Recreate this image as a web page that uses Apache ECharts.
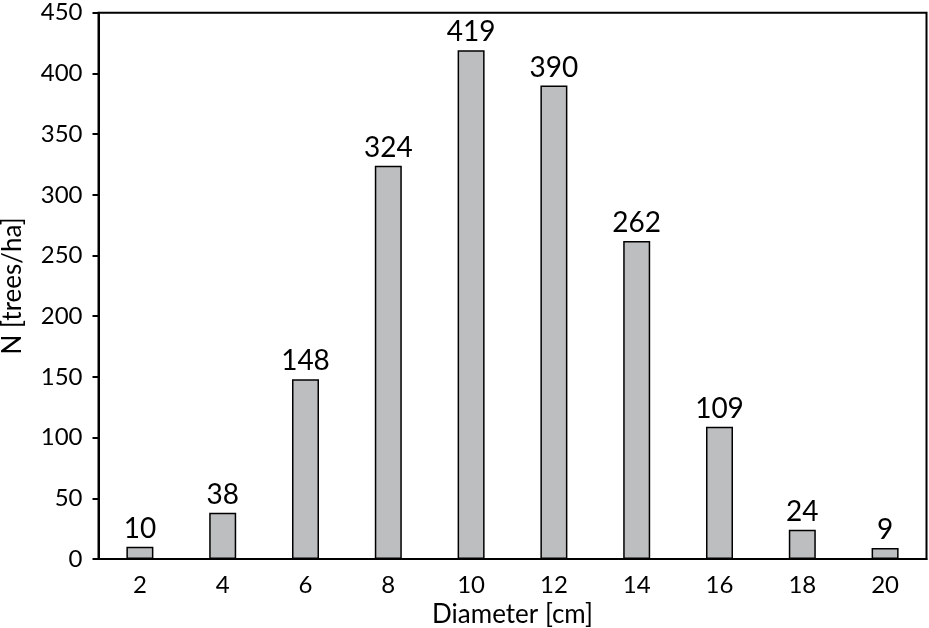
<!DOCTYPE html>
<html><head><meta charset="utf-8">
<script src="https://cdn.jsdelivr.net/npm/echarts@6/dist/echarts.min.js"></script>
<style>html,body{margin:0;padding:0;background:#fff}#c{width:929px;height:628px}</style>
</head><body><div id="c"></div>
<script>
const categories = ['2','4','6','8','10','12','14','16','18','20'];
const values = [10, 38, 148, 324, 419, 390, 262, 109, 24, 9];
const yTicks = {min: 0, max: 450, interval: 50};
const xName = 'Diameter [cm]';
const yName = 'N [trees/ha]';

const font = 'Lato, "Open Sans", sans-serif';
const chart = echarts.init(document.getElementById('c'));
chart.setOption({
  animation: false,
  grid: {left: 98.5, right: 2.5, top: 12.7, bottom: 69, outerBoundsMode: 'none', containLabel: false,
         show: true, borderColor: '#000', borderWidth: 2, backgroundColor: 'transparent'},
  xAxis: {
    type: 'category', data: categories,
    name: xName, nameLocation: 'middle', nameGap: 39,
    nameTextStyle: {fontFamily: font, fontSize: 26, color: '#000'},
    axisLine: {lineStyle: {color: '#000', width: 2}},
    axisTick: {alignWithLabel: true, length: 6, lineStyle: {color: '#000', width: 2}},
    axisLabel: {fontFamily: font, fontSize: 24, color: '#000', margin: 14}
  },
  yAxis: {
    type: 'value', min: yTicks.min, max: yTicks.max, interval: yTicks.interval,
    name: yName, nameLocation: 'middle', nameGap: 73,
    nameTextStyle: {fontFamily: font, fontSize: 26, color: '#000'},
    axisLine: {show: true, lineStyle: {color: '#000', width: 2}},
    axisTick: {show: true, length: 6, lineStyle: {color: '#000', width: 2}},
    axisLabel: {fontFamily: font, fontSize: 24, color: '#000', margin: 16},
    splitLine: {show: false}
  },
  series: [{
    type: 'bar', data: values, barWidth: 27,
    itemStyle: {color: '#bcbec0', borderColor: '#000', borderWidth: 1.5},
    label: {show: true, position: 'top', distance: 4, fontFamily: font, fontSize: 28, color: '#000'}
  }]
});
</script></body></html>
